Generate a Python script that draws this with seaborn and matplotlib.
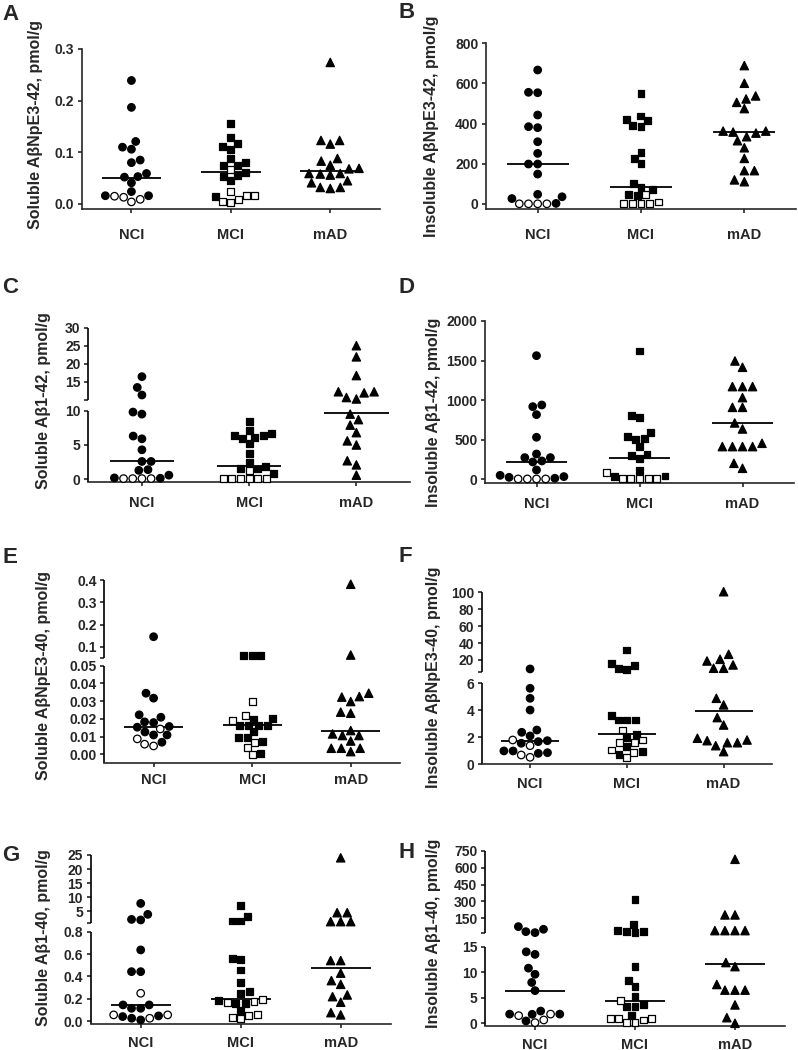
import numpy as np
import pandas as pd
import matplotlib
matplotlib.use("Agg")
import matplotlib.pyplot as plt
import seaborn as sns

groups = ["NCI", "MCI", "mAD"]

# ---- A: soluble AbNpE3-42 ----
a_nci = [0.239, 0.187, 0.121, 0.110, 0.106, 0.085, 0.080, 0.059, 0.053, 0.052, 0.041, 0.024, 0.016, 0.016]
a_nci_open = [0.015, 0.013, 0.009, 0.004]
a_mci = [0.155, 0.128, 0.117, 0.112, 0.106, 0.088, 0.080, 0.075, 0.074, 0.061, 0.056, 0.053, 0.045, 0.014]
a_mci_open = [0.066, 0.025, 0.017, 0.017, 0.009, 0.005, 0.003]
a_mad = [0.274, 0.123, 0.123, 0.116, 0.088, 0.083, 0.075, 0.069, 0.068, 0.059, 0.059, 0.058, 0.056,
         0.045, 0.041, 0.032, 0.032, 0.030]
a_med = [0.050, 0.061, 0.064]

# ---- B: insoluble AbNpE3-42 ----
b_nci = [667, 556, 554, 443, 385, 380, 310, 252, 199, 199, 149, 48, 36, 27, 3]
b_nci_open = [1, 1, 1, 1]
b_mci = [548, 438, 422, 415, 392, 388, 256, 226, 202, 100, 81, 70, 48, 41]
b_mci_open = [45, 10, 4, 4, 4, 4]
b_mad = [689, 601, 538, 523, 506, 475, 363, 363, 358, 353, 335, 315, 280, 227, 166, 166, 120, 111]
b_med = [199, 86, 357]

# ---- C: soluble Ab1-42 ----
c_nci = [16.4, 13.4, 11.3, 9.8, 9.5, 6.3, 5.9, 4.3, 2.6, 2.6, 1.4, 1.3, 0.6, 0.2, 0.15]
c_nci_open = [0.1, 0.1, 0.1, 0.1]
c_mci = [8.4, 7.1, 6.7, 6.4, 6.4, 6.1, 6.0, 5.2, 3.7, 2.5, 1.9, 1.6, 1.5, 0.8]
c_mci_open = [1.3, 0.1, 0.1, 0.1, 0.1, 0.1, 0.1]
c_mad = [25.0, 21.9, 16.7, 12.2, 12.2, 11.9, 10.6, 10.2, 9.5, 8.7, 7.9, 6.8, 5.6, 5.0, 2.7, 2.1, 0.6]
c_med = [2.6, 1.9, 9.6]

# ---- D: insoluble Ab1-42 ----
d_nci = [1562, 939, 918, 817, 531, 320, 274, 274, 232, 219, 118, 50, 34, 25, 13]
d_nci_open = [5, 5, 5, 5]
d_mci = [1621, 804, 779, 589, 539, 514, 505, 413, 312, 295, 261, 110, 42, 34]
d_mci_open = [84, 15, 5, 5, 5, 5]
d_mad = [1495, 1415, 1171, 1171, 1171, 1032, 909, 909, 712, 636, 455, 413, 413, 413, 413, 202, 139]
d_med = [219, 265, 712]

# ---- E: soluble AbNpE3-40 ----
e_nci = [0.146, 0.0345, 0.0317, 0.0223, 0.0209, 0.0183, 0.0179, 0.0157, 0.0153, 0.0126, 0.0109,
         0.0109, 0.0068]
e_nci_open = [0.0143, 0.0087, 0.0057, 0.0047]
e_mci = [0.060, 0.060, 0.060, 0.0200, 0.0198, 0.0162, 0.0162, 0.0162, 0.0162, 0.0126, 0.0096,
         0.0094, 0.0072, 0.0006]
e_mci_open = [0.0298, 0.0219, 0.0189, 0.0066, 0.0038, 0.0]
e_mad = [0.381, 0.064, 0.0345, 0.0326, 0.0323, 0.0298, 0.0238, 0.0232, 0.0134, 0.0115, 0.0106,
         0.0106, 0.0075, 0.0034, 0.0034, 0.0034, 0.0015]
e_med = [0.0155, 0.0166, 0.0134]

# ---- F: insoluble AbNpE3-40 ----
f_nci = [9.4, 5.63, 4.89, 4.02, 2.54, 2.37, 2.10, 1.75, 1.68, 1.56, 0.99, 0.99, 0.86, 0.81]
f_nci_open = [1.80, 1.38, 0.69, 0.52]
f_mci = [31.8, 15.3, 13.3, 9.4, 9.0, 3.65, 3.28, 3.28, 3.28, 2.22, 2.0, 1.31, 0.94, 0.74]
f_mci_open = [2.54, 1.80, 1.63, 1.63, 1.06, 0.86, 0.49]
f_mad = [100.7, 26.7, 20.8, 18.8, 14.1, 10.2, 10.2, 4.89, 4.40, 3.46, 2.91, 1.93, 1.80, 1.75,
         1.60, 1.60, 1.38, 0.94]
f_med = [1.70, 2.22, 3.95]

# ---- G: soluble Ab1-40 ----
g_nci = [7.7, 3.8, 2.0, 1.8, 0.637, 0.443, 0.443, 0.146, 0.146, 0.116, 0.116, 0.048, 0.042, 0.027, 0.012]
g_nci_open = [0.25, 0.057, 0.057, 0.027]
g_mci = [7.1, 3.0, 1.43, 1.43, 0.56, 0.553, 0.458, 0.348, 0.265, 0.25, 0.185, 0.16, 0.16, 0.10]
g_mci_open = [0.196, 0.176, 0.167, 0.057, 0.048, 0.033, 0.021]
g_mad = [24.0, 4.4, 4.4, 1.2, 1.2, 1.2, 0.542, 0.542, 0.43, 0.363, 0.33, 0.235, 0.22, 0.17, 0.077, 0.057]
g_med = [0.146, 0.199, 0.479]

# ---- H: insoluble Ab1-40 ----
h_nci = [75.7, 52, 31, 22, 14.0, 13.5, 10.8, 9.6, 8.0, 6.4, 2.4, 1.8, 1.8, 1.76, 0.46]
h_nci_open = [1.8, 1.5, 0.65, 0.13]
h_mci = [319, 96.5, 40, 31, 31, 25, 11.1, 8.3, 7.2, 5.2, 3.7, 3.3, 3.3, 1.6]
h_mci_open = [4.4, 1.0, 0.85, 0.85, 0.65, 0.13, 0.13]
h_mad = [676, 180, 180, 40, 40, 40, 40, 11.9, 11.1, 7.6, 6.5, 6.5, 6.5, 3.6, 1.1, 0.0]
h_med = [6.4, 4.4, 11.6]

ylabels = {
    "A": "Soluble AβNpE3-42, pmol/g", "B": "Insoluble AβNpE3-42, pmol/g",
    "C": "Soluble Aβ1-42, pmol/g", "D": "Insoluble Aβ1-42, pmol/g",
    "E": "Soluble AβNpE3-40, pmol/g", "F": "Insoluble AβNpE3-40, pmol/g",
    "G": "Soluble Aβ1-40, pmol/g", "H": "Insoluble Aβ1-40, pmol/g",
}


def make_frame(nci, nci_open, mci, mci_open, mad):
    rows = []
    for grp, vals, fill in [("NCI", nci, "filled"), ("NCI", nci_open, "open"),
                            ("MCI", mci, "filled"), ("MCI", mci_open, "open"),
                            ("mAD", mad, "filled")]:
        rows += [(grp, v, fill) for v in vals]
    return pd.DataFrame(rows, columns=["group", "value", "fill"])


def broken_funcs(brk, k1, k2, gap):
    # piecewise linear y scale: two linear pieces with a gap between them
    lo = brk * k1

    def fwd(v):
        v = np.asarray(v, dtype=float)
        return np.where(v <= brk, v * k1, lo + gap + (v - brk) * k2)

    def inv(p):
        p = np.asarray(p, dtype=float)
        return np.where(p <= lo, p / k1,
                        np.where(p < lo + gap, brk, brk + (p - lo - gap) / k2))
    return fwd, inv


# layout in reference pixels: left, right, top, bottom of the plotting box
panels = [
    dict(key="A", data=(a_nci, a_nci_open, a_mci, a_mci_open, a_mad), med=a_med,
         box=(81.7, 380, 49, 209.3), ylim=(-0.0103, 0.3),
         ticks=[0, 0.1, 0.2, 0.3], labels=["0.0", "0.1", "0.2", "0.3"],
         ylab=(36, 124.5), letter=(2, 20), xpad=10.5),
    dict(key="B", data=(b_nci, b_nci_open, b_mci, b_mci_open, b_mad), med=b_med,
         box=(486, 796, 43.3, 209.3), ylim=(-26.4, 800),
         ticks=[0, 200, 400, 600, 800], labels=["0", "200", "400", "600", "800"],
         ylab=(431.7, 126), letter=(398, 18), xpad=10.5),
    dict(key="C", data=(c_nci, c_nci_open, c_mci, c_mci_open, c_mad), med=c_med,
         box=(88.3, 410, 327.7, 482.3), ylim=(-0.44, 30), brk=(10, 6.86, 3.6, 11),
         ticks=[0, 5, 10, 15, 20, 25, 30], labels=["0", "5", "10", "15", "20", "25", "30"],
         ylab=(43.3, 401), letter=(2, 293), xpad=6.8),
    dict(key="D", data=(d_nci, d_nci_open, d_mci, d_mci_open, d_mad), med=d_med,
         box=(485, 794, 321, 483.3), ylim=(-50.5, 2000),
         ticks=[0, 500, 1000, 1500, 2000], labels=["0", "500", "1000", "1500", "2000"],
         ylab=(433, 412), letter=(398, 293), xpad=6.8),
    dict(key="E", data=(e_nci, e_nci_open, e_mci, e_mci_open, e_mad), med=e_med,
         box=(104.3, 400, 580, 763.3), ylim=(-0.0051, 0.4), brk=(0.05, 1770, 223.3, 7.6),
         ticks=[0, 0.01, 0.02, 0.03, 0.04, 0.05, 0.1, 0.2, 0.3, 0.4],
         labels=["0.00", "0.01", "0.02", "0.03", "0.04", "0.05", "0.1", "0.2", "0.3", "0.4"],
         ylab=(43.3, 676), letter=(2, 563), xpad=3.9),
    dict(key="F", data=(f_nci, f_nci_open, f_mci, f_mci_open, f_mad), med=f_med,
         box=(481.7, 772, 592.3, 764.3), ylim=(0, 100), brk=(6, 13.5, 0.846, 11.5),
         ticks=[0, 2, 4, 6, 20, 40, 60, 80, 100],
         labels=["0", "2", "4", "6", "20", "40", "60", "80", "100"],
         ylab=(433, 677), letter=(398, 562), xpad=6.0),
    dict(key="G", data=(g_nci, g_nci_open, g_mci, g_mci_open, g_mad), med=g_med,
         box=(90.7, 390.7, 855, 1024.3), ylim=(-0.027, 25), brk=(0.8, 112, 2.8, 8.9),
         ticks=[0, 0.2, 0.4, 0.6, 0.8, 5, 10, 15, 20, 25],
         labels=["0.0", "0.2", "0.4", "0.6", "0.8", "5", "10", "15", "20", "25"],
         ylab=(44, 937.5), letter=(2, 861), xpad=5.3),
    dict(key="H", data=(h_nci, h_nci_open, h_mci, h_mci_open, h_mad), med=h_med,
         box=(485, 785, 851, 1026), ylim=(-0.53, 750), brk=(15, 5.107, 0.1122, 13.3),
         ticks=[0, 5, 10, 15, 150, 300, 450, 600, 750],
         labels=["0", "5", "10", "15", "150", "300", "450", "600", "750"],
         ylab=(433, 933), letter=(398, 858), xpad=5.3),
]

sns.set_style("ticks")
plt.rcParams["font.family"] = ["Liberation Sans", "DejaVu Sans"]
plt.rcParams["font.weight"] = "bold"

W, H = 798, 1050
fig = plt.figure(figsize=(W / 100, H / 100), dpi=100)

markers = {"NCI": ("o", 5.4), "MCI": ("s", 5.0), "mAD": ("^", 6.0)}
palette = {"filled": "black", "open": "white"}
lw_axis = 1.2

for p in panels:
    l, r, t, b = p["box"]
    ax = fig.add_axes([l / W, 1 - b / H, (r - l) / W, (b - t) / H])
    df = make_frame(*p["data"])

    brk = p.get("brk")
    if brk is not None:
        ax.set_yscale("function", functions=broken_funcs(*brk))

    for grp in groups:
        marker, size = markers[grp]
        sns.swarmplot(data=df[df["group"] == grp], x="group", y="value", hue="fill",
                      order=groups, hue_order=["filled", "open"], palette=palette,
                      marker=marker, size=size, edgecolor="black", linewidth=0.9,
                      legend=False, zorder=3, ax=ax)

    # let markers at the very top of an axis show in full (skip empty collections)
    for coll in ax.collections:
        if len(coll.get_offsets()) > 0:
            coll.set_clip_on(False)

    # median lines
    xs = np.arange(len(groups))
    ax.hlines(p["med"], xs - 0.3, xs + 0.3, color="black", lw=1.3, zorder=2)

    ax.set_xlim(-0.5, 2.5)
    ax.set_ylim(*p["ylim"])
    ax.set_xlabel("")
    ax.set_ylabel("")
    sns.despine(ax=ax)

    ticks = list(p["ticks"])
    labels = list(p["labels"])
    if brk is not None:
        b0 = brk[0]
        up0 = b0 + abs(b0) * 1e-6
        ticks.append(up0)
        labels.append("")
        ax.spines["left"].set_visible(False)
        tr = ax.get_yaxis_transform()
        ax.plot([0, 0], [p["ylim"][0], b0], color="black", lw=lw_axis,
                transform=tr, clip_on=False, solid_capstyle="butt")
        ax.plot([0, 0], [up0, p["ylim"][1]], color="black", lw=lw_axis,
                transform=tr, clip_on=False, solid_capstyle="butt")
    ax.set_yticks(ticks)
    ax.set_yticklabels(labels)
    ax.set_xticks(xs)
    ax.set_xticklabels(groups)

    for s in ["left", "bottom"]:
        ax.spines[s].set_linewidth(lw_axis)
    ax.tick_params(axis="y", direction="out", length=3, width=lw_axis, pad=2.5,
                   labelsize=10)
    ax.tick_params(axis="x", direction="out", length=3, width=lw_axis,
                   pad=p["xpad"], labelsize=10.5)
    for lab in ax.get_xticklabels() + ax.get_yticklabels():
        lab.set_fontweight("bold")

    yx, yy = p["ylab"]
    fig.text(yx / W, 1 - yy / H, ylabels[p["key"]], rotation=90, ha="center",
             va="center", fontsize=11.5, fontweight="bold")
    lx, ly = p["letter"]
    fig.text(lx / W, 1 - ly / H, p["key"], ha="left", va="baseline",
             fontsize=16, fontweight="bold")

fig.savefig("out.png", dpi=100)
